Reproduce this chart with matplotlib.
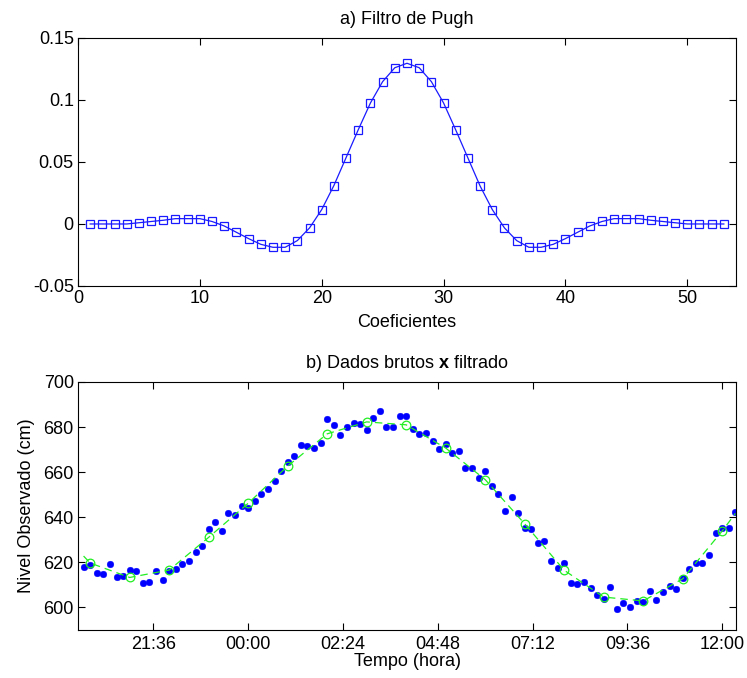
import numpy as np
import pandas as pd
import matplotlib
matplotlib.use("Agg")
import matplotlib.pyplot as plt
import matplotlib.dates as mdates

plt.rcParams["font.family"] = ["Liberation Sans", "DejaVu Sans"]
plt.rcParams["mathtext.fontset"] = "custom"
plt.rcParams["mathtext.rm"] = "Liberation Sans"
plt.rcParams["mathtext.bf"] = "Liberation Sans:bold"

# --- a) Pugh filter weights (53 coefficients) ---
pugh_coef = [
    0.0, 0.0, 0.0, 0.0, 0.001, 0.002, 0.003, 0.0043, 0.0043, 0.0043,
    0.002, -0.0016, -0.0067, -0.0118, -0.0164, -0.0188, -0.0188, -0.0134, -0.0032, 0.0116,
    0.031, 0.0535, 0.076, 0.0976, 0.1148, 0.126, 0.1296, 0.126, 0.1148, 0.0976,
    0.0758, 0.0532, 0.0306, 0.0116, -0.0032, -0.0134, -0.0188, -0.0188, -0.0164, -0.0118,
    -0.0067, -0.0016, 0.002, 0.0043, 0.0043, 0.0043, 0.003, 0.002, 0.001, 0.0,
    0.0, 0.0, 0.0,
]

# --- b) raw sea level, every 10 min from 19:50 to 12:20 ---
raw_start = "2000-01-01 19:50"
raw_step_min = 10
raw_level = [
    618.0, 619.0, 615.3, 614.7, 619.1, 613.3, 614.1, 616.6, 616.1, 611.0,
    611.3, 616.2, 612.2, 616.3, 617.1, 619.1, 620.5, 624.7, 627.2, 634.8,
    638.0, 633.9, 642.0, 640.9, 645.2, 644.2, 647.3, 650.1, 652.4, 656.3,
    660.5, 664.4, 667.2, 672.0, 671.4, 670.8, 673.0, 683.4, 681.0, 676.7,
    680.1, 681.7, 681.4, 678.5, 683.9, 687.2, 680.0, 680.0, 684.8, 684.8,
    679.1, 677.0, 677.2, 673.8, 670.4, 672.6, 668.6, 669.5, 661.9, 661.9,
    657.6, 660.7, 653.8, 650.1, 642.9, 649.0, 642.0, 635.1, 634.8, 628.6,
    629.6, 620.5, 617.7, 619.9, 611.0, 610.5, 611.5, 608.5, 605.6, 603.8,
    609.1, 599.1, 601.9, 600.4, 602.8, 602.2, 607.1, 603.4, 606.8, 609.6,
    608.1, 613.1, 617.1, 619.6, 619.6, 623.4, 632.8, 635.3, 635.3, 642.4,
]

# filtered series: ends of the record plus hourly values 20:00 ... 12:00
filt_times = ["2000-01-01 19:50"] + \
    [f"2000-01-01 {h:02d}:00" for h in (20, 21, 22, 23)] + \
    [f"2000-01-02 {h:02d}:00" for h in range(0, 13)] + ["2000-01-02 12:20"]
filt_level = [
    622.8,
    619.7, 613.3, 616.6, 631.1, 646.2, 662.7, 677.0, 682.3, 681.0, 670.7,
    656.7, 637.1, 616.5, 604.6, 602.9, 612.7, 633.9,
    641.7,
]

time_ticks = ["2000-01-01 21:36", "2000-01-02 00:00", "2000-01-02 02:24",
              "2000-01-02 04:48", "2000-01-02 07:12", "2000-01-02 09:36",
              "2000-01-02 12:00"]
time_limits = ["2000-01-01 19:41:30", "2000-01-02 12:21:00"]

FS = 13

fig = plt.figure(figsize=(7.47, 6.78), dpi=100)
ax1 = fig.add_axes([0.1044, 0.5782, 0.8809, 0.3658])
ax2 = fig.add_axes([0.1044, 0.0708, 0.8809, 0.3658])

# a) filter coefficients
n = np.arange(1, len(pugh_coef) + 1)
ax1.plot(n, pugh_coef, color="#1a1aff", lw=0.9, marker="s", ms=5.8,
         mfc="none", mec="#1a1aff", mew=0.9)
ax1.set_xlim(0, 54)
ax1.set_ylim(-0.05, 0.15)
ax1.set_xticks([0, 10, 20, 30, 40, 50])
ax1.set_yticks([-0.05, 0, 0.05, 0.1, 0.15])
ax1.set_yticklabels(["-0.05", "0", "0.05", "0.1", "0.15"])
ax1.set_xlabel("Coeficientes", fontsize=FS, labelpad=5)
ax1.set_title("a) Filtro de Pugh", fontsize=FS, pad=10)

# b) raw vs filtered
t_raw = pd.date_range(raw_start, periods=len(raw_level), freq=f"{raw_step_min}min")
t_filt = pd.to_datetime(filt_times)
ax2.plot(t_raw, raw_level, linestyle="none", marker="o", ms=4.8,
         color="#0000ff", mec="#0000ff", mew=0.3)
ax2.plot(t_filt, filt_level, color="#22ee22", lw=0.9, linestyle=(0, (6, 4)),
         marker="o", ms=6.2, mfc="none", mec="#22ee22", mew=0.9,
         markevery=slice(1, len(filt_level) - 1))
ax2.set_xlim(pd.to_datetime(time_limits))
ax2.set_ylim(590, 700)
ax2.set_yticks([600, 620, 640, 660, 680, 700])
ax2.set_xticks(pd.to_datetime(time_ticks))
ax2.xaxis.set_major_formatter(mdates.DateFormatter("%H:%M"))
ax2.set_xlabel("Tempo (hora)", fontsize=FS, labelpad=0)
ax2.set_ylabel("Nivel Observado (cm)", fontsize=FS, labelpad=6)
ax2.set_title(r"b) Dados brutos $\mathbf{x}$ filtrado", fontsize=FS, pad=10)

for ax in (ax1, ax2):
    ax.tick_params(direction="in", top=True, right=True, length=5,
                   width=0.8, labelsize=FS, pad=3)
    for s in ax.spines.values():
        s.set_linewidth(0.8)
ax2.tick_params(axis="x", pad=4)

fig.savefig("out.png", dpi=100)
